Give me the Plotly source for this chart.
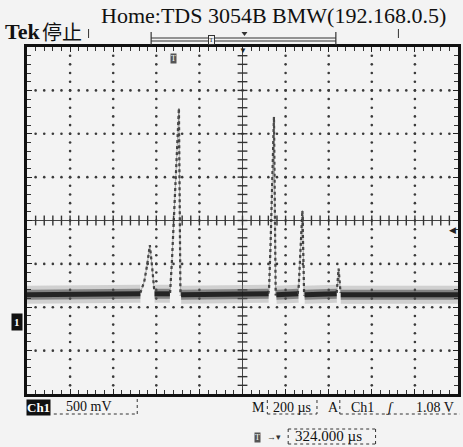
import plotly.graph_objects as go

# ---- data (time in µs relative to trigger, voltage in V) ----
# baseline (noise band centre) segments between pulses
base_t = [-676, -150, None, -84, -13, None, 39, 445, None, 481, 583, None, 612, 761, None, 780, 1324]
base_v = [0.31, 0.32, None, 0.32, 0.32, None, 0.31, 0.32, None, 0.31, 0.32, None, 0.31, 0.32, None, 0.31, 0.31]

p1_t = [-150, -132, -118, -106, -95, -86]
p1_v = [0.33, 0.46, 0.66, 0.88, 0.62, 0.37]
p2_t = [-12, -3, 29, 36]
p2_v = [0.33, 0.72, 2.46, 0.30]
p3_t = [443, 447, 454, 470, 478]
p3_v = [0.32, 0.36, 0.87, 2.36, 0.30]
p4_t = [580, 585, 602, 610]
p4_v = [0.32, 0.41, 1.28, 0.30]
p5_t = [761, 770, 779]
p5_v = [0.33, 0.61, 0.33]

# scope settings
volts_per_div = 0.5
us_per_div = 200
center_t = 324.0          # horizontal delay (µs)
center_v = 1.165          # vertical centre in V (ground marker offset)
trig_level = 1.08

x_lo, x_hi = center_t - 5 * us_per_div, center_t + 5 * us_per_div
y_lo, y_hi = center_v - 4 * volts_per_div, center_v + 4 * volts_per_div

W, H = 463, 447
L, R, T, B = 27, 2, 47, 53
pw, ph = W - L - R, H - T - B


def px(x):
    return (x - L) / pw


def py(y):
    return (H - B - y) / ph


fig = go.Figure()

# graticule dots on each division line
dot_x, dot_y = [], []
for k in range(1, 10):
    if k == 5:
        continue
    xv = x_lo + k * us_per_div
    for j in range(1, 40):
        dot_x.append(xv)
        dot_y.append(y_lo + j * volts_per_div / 5)
for k in range(1, 8):
    if k == 4:
        continue
    yv = y_lo + k * volts_per_div
    for j in range(1, 50):
        dot_x.append(x_lo + j * us_per_div / 5)
        dot_y.append(yv)
fig.add_trace(go.Scatter(x=dot_x, y=dot_y, mode="markers",
                         marker=dict(size=2.6, color="#3a3a3a"), hoverinfo="skip"))

# centre cross with ticks
fig.add_trace(go.Scatter(x=[x_lo, x_hi], y=[center_v, center_v], mode="lines",
                         line=dict(color="#444", width=1), hoverinfo="skip"))
fig.add_trace(go.Scatter(x=[center_t, center_t], y=[y_lo, y_hi], mode="lines",
                         line=dict(color="#444", width=1), hoverinfo="skip"))
fig.add_trace(go.Scatter(x=[x_lo + j * us_per_div / 5 for j in range(1, 50)],
                         y=[center_v] * 49, mode="markers",
                         marker=dict(symbol="line-ns", size=7, line=dict(width=1.4, color="#333")),
                         hoverinfo="skip"))
fig.add_trace(go.Scatter(x=[center_t] * 39,
                         y=[y_lo + j * volts_per_div / 5 for j in range(1, 40)], mode="markers",
                         marker=dict(symbol="line-ew", size=7, line=dict(width=1.4, color="#333")),
                         hoverinfo="skip"))

# noise band (halo) and core of the baseline
fig.add_trace(go.Scatter(x=base_t, y=base_v, mode="lines", connectgaps=False,
                         line=dict(color="rgba(130,130,130,0.30)", width=18), hoverinfo="skip"))
fig.add_trace(go.Scatter(x=base_t, y=base_v, mode="lines", connectgaps=False,
                         line=dict(color="rgba(70,70,70,0.55)", width=10), hoverinfo="skip"))
fig.add_trace(go.Scatter(x=base_t, y=base_v, mode="lines", connectgaps=False,
                         line=dict(color="rgba(25,25,25,0.9)", width=5), hoverinfo="skip"))

# pulses
for tt, vv in [(p1_t, p1_v), (p2_t, p2_v), (p3_t, p3_v), (p4_t, p4_v), (p5_t, p5_v)]:
    fig.add_trace(go.Scatter(x=tt, y=vv, mode="lines",
                             line=dict(color="rgba(40,40,40,0.9)", width=2.2, dash="dot"),
                             hoverinfo="skip"))
    fig.add_trace(go.Scatter(x=tt, y=vv, mode="lines",
                             line=dict(color="rgba(90,90,90,0.5)", width=1),
                             hoverinfo="skip"))

serif = "Liberation Serif, Times New Roman, serif"
ann = []


def text(x, y, s, size=14, color="#111", xanchor="left", family=serif, **kw):
    ann.append(dict(x=px(x), y=py(y), xref="paper", yref="paper", text=s, showarrow=False,
                    xanchor=xanchor, yanchor="middle",
                    font=dict(family=family, size=size, color=color), **kw))


text(3, 32, "<b>Tek</b>", size=22)
text(40, 32, "停止", size=20, family="Noto Sans CJK SC")
text(99, 16, "Home:TDS 3054B BMW(192.168.0.5)", size=22)
text(175, 58, "T", size=8, color="#fff", xanchor="center", bgcolor="#555", borderpad=0)
text(245, 51, "▼", size=8, color="#222", xanchor="center")
text(17, 322, "<b>1</b>", size=11, color="#fff", xanchor="center", bgcolor="#111", borderpad=2)
text(461, 230, "◀", size=9, color="#222", xanchor="right")
# bottom readouts
text(26, 407, "<b>Ch1</b>", size=13, color="#fff", bgcolor="#111", borderpad=0)
text(64, 406, "500 mV", size=14)
text(252, 407, "M", size=14)
text(273, 407, "200 µs", size=14)
text(328, 407, "A", size=14)
text(351, 407, "Ch1", size=14)
text(393, 407, "<i>ʃ</i>", size=14, xanchor="center")
text(417, 407, "1.08 V", size=14)
text(256, 437, "T", size=8, color="#fff", bgcolor="#555", borderpad=0)
text(267, 437, "→▾", size=9, color="#333")
text(295, 436, "324.000 µs", size=15)

shapes = []


def seg(x0, y0, x1, y1, dash="dot", w=1, color="#333"):
    shapes.append(dict(type="line", xref="paper", yref="paper", x0=px(x0), y0=py(y0),
                       x1=px(x1), y1=py(y1), line=dict(color=color, width=w, dash=dash)))


# record view bar at top
seg(89, 29, 89, 46, dash="dash")
seg(401, 29, 401, 45, dash="dash")
seg(152, 32, 152, 45, dash="solid", w=1.2)
seg(338, 32, 338, 45, dash="solid", w=1.2)
seg(152, 38, 338, 38, dash="solid", w=1.2)
seg(152, 41, 338, 41, dash="solid", w=1.2)
text(213, 40, "T", size=7, color="#222", xanchor="center", bgcolor="#f3f3f3",
     bordercolor="#333", borderwidth=1, borderpad=0)
# small view-position triangle (drawn as a path)
shapes.append(dict(type="path", xref="paper", yref="paper",
                   path=f"M {px(243)} {py(32)} L {px(249)} {py(32)} L {px(246)} {py(36)} Z",
                   fillcolor="#333", line=dict(width=0)))
# readout boxes
seg(54, 414, 138, 414)
seg(138, 399, 138, 414)
seg(269, 400, 269, 414)
seg(319, 400, 319, 414)
seg(269, 414, 319, 414)
seg(342, 400, 342, 414)
seg(342, 414, 463, 414)
seg(290, 429, 378, 429)
seg(290, 444, 378, 444)
seg(290, 429, 290, 444)
seg(378, 429, 378, 444)

fig.update_layout(
    width=W, height=H, margin=dict(l=L, r=R, t=T, b=B),
    paper_bgcolor="#f3f3f3", plot_bgcolor="#f3f3f3",
    showlegend=False, annotations=ann, shapes=shapes,
    xaxis=dict(range=[x_lo, x_hi], tick0=x_lo, dtick=us_per_div, ticks="inside", ticklen=5,
               tickwidth=1.4, tickcolor="#222", showticklabels=False, showgrid=False,
               zeroline=False, showline=True, linewidth=2.5, linecolor="#111", mirror="allticks",
               minor=dict(tick0=x_lo, dtick=us_per_div / 5, ticks="inside", ticklen=4,
                          tickwidth=1.2, tickcolor="#333", showgrid=False)),
    yaxis=dict(range=[y_lo, y_hi], tick0=y_lo, dtick=volts_per_div, ticks="inside", ticklen=5,
               tickwidth=1.4, tickcolor="#222", showticklabels=False, showgrid=False,
               zeroline=False, showline=True, linewidth=2.5, linecolor="#111", mirror="allticks",
               minor=dict(tick0=y_lo, dtick=volts_per_div / 5, ticks="inside", ticklen=4,
                          tickwidth=1.2, tickcolor="#333", showgrid=False)),
)

fig.write_html("out.html")
